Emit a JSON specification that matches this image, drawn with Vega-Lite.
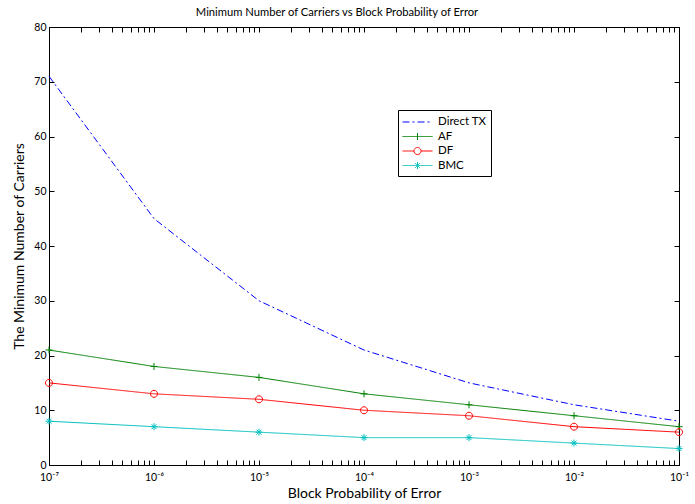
{
  "$schema": "https://vega.github.io/schema/vega-lite/v6.json",
  "width": 630,
  "height": 438,
  "autosize": "none",
  "padding": {"left": 49, "top": 27, "right": 16, "bottom": 39},
  "background": "white",
  "config": {
    "font": "Lato",
    "view": {"stroke": "black", "strokeWidth": 1},
    "axis": {
      "grid": false,
      "domainColor": "black",
      "tickColor": "black",
      "labelColor": "black",
      "titleColor": "black",
      "titleFontWeight": "normal",
      "labelFontSize": 10.5,
      "titleFontSize": 14,
      "tickSize": -5,
      "labelPadding": 8
    }
  },
  "title": {"text": "Minimum Number of Carriers vs Block Probability of Error", "fontSize": 11.2, "fontWeight": "normal", "offset": 4, "dx": -27, "color": "black"},
  "data": {
    "values": [
      {"p": 1e-7, "series": "Direct TX", "carriers": 71},
      {"p": 1e-6, "series": "Direct TX", "carriers": 45},
      {"p": 1e-5, "series": "Direct TX", "carriers": 30},
      {"p": 1e-4, "series": "Direct TX", "carriers": 21},
      {"p": 1e-3, "series": "Direct TX", "carriers": 15},
      {"p": 1e-2, "series": "Direct TX", "carriers": 11},
      {"p": 1e-1, "series": "Direct TX", "carriers": 8},
      {"p": 1e-7, "series": "AF", "carriers": 21},
      {"p": 1e-6, "series": "AF", "carriers": 18},
      {"p": 1e-5, "series": "AF", "carriers": 16},
      {"p": 1e-4, "series": "AF", "carriers": 13},
      {"p": 1e-3, "series": "AF", "carriers": 11},
      {"p": 1e-2, "series": "AF", "carriers": 9},
      {"p": 1e-1, "series": "AF", "carriers": 7},
      {"p": 1e-7, "series": "DF", "carriers": 15},
      {"p": 1e-6, "series": "DF", "carriers": 13},
      {"p": 1e-5, "series": "DF", "carriers": 12},
      {"p": 1e-4, "series": "DF", "carriers": 10},
      {"p": 1e-3, "series": "DF", "carriers": 9},
      {"p": 1e-2, "series": "DF", "carriers": 7},
      {"p": 1e-1, "series": "DF", "carriers": 6},
      {"p": 1e-7, "series": "BMC", "carriers": 8},
      {"p": 1e-6, "series": "BMC", "carriers": 7},
      {"p": 1e-5, "series": "BMC", "carriers": 6},
      {"p": 1e-4, "series": "BMC", "carriers": 5},
      {"p": 1e-3, "series": "BMC", "carriers": 5},
      {"p": 1e-2, "series": "BMC", "carriers": 4},
      {"p": 1e-1, "series": "BMC", "carriers": 3}
    ]
  },
  "resolve": {"axis": {"x": "independent", "y": "independent"}},
  "layer": [
    {
      "mark": {"type": "line", "strokeWidth": 1},
      "encoding": {
        "x": {
          "field": "p", "type": "quantitative",
          "scale": {"type": "log", "domain": [1e-7, 1e-1], "nice": false},
          "axis": {
            "orient": "bottom",
            "title": "Block Probability of Error",
            "values": [1e-7, 2e-7, 3e-7, 4e-7, 5e-7, 6e-7, 7e-7, 8e-7, 9e-7, 1e-6, 2e-6, 3e-6, 4e-6, 5e-6, 6e-6, 7e-6, 8e-6, 9e-6, 1e-5, 2e-5, 3e-5, 4e-5, 5e-5, 6e-5, 7e-5, 8e-5, 9e-5, 1e-4, 2e-4, 3e-4, 4e-4, 5e-4, 6e-4, 7e-4, 8e-4, 9e-4, 1e-3, 2e-3, 3e-3, 4e-3, 5e-3, 6e-3, 7e-3, 8e-3, 9e-3, 1e-2, 2e-2, 3e-2, 4e-2, 5e-2, 6e-2, 7e-2, 8e-2, 9e-2, 1e-1],
            "labelExpr": "abs(log(datum.value)/LN10 - round(log(datum.value)/LN10)) < 1e-6 ? '10⁻' + ['⁰','¹','²','³','⁴','⁵','⁶','⁷','⁸','⁹'][-round(log(datum.value)/LN10)] : ''",
            "labelFlush": false,
            "labelOverlap": false,
            "labelPadding": 12,
            "titlePadding": 4
          }
        },
        "y": {
          "field": "carriers", "type": "quantitative",
          "scale": {"domain": [0, 80], "nice": false},
          "axis": {"orient": "left", "title": "The Minimum Number of Carriers", "values": [0, 10, 20, 30, 40, 50, 60, 70, 80], "labelPadding": 8, "titlePadding": 7}
        },
        "color": {
          "field": "series", "type": "nominal",
          "scale": {"domain": ["Direct TX", "AF", "DF", "BMC"], "range": ["#0000ff", "#008000", "#ff0000", "#00bfbf"]},
          "legend": {
            "title": null,
            "orient": "none",
            "legendX": 349,
            "legendY": 83,
            "strokeColor": "black",
            "fillColor": "white",
            "padding": 4,
            "rowPadding": 0.5,
            "symbolSize": 225,
            "symbolStrokeWidth": 1,
            "labelOffset": 20,
            "labelFontSize": 11.5,
            "labelColor": "black",
            "encode": {
              "symbols": {
                "update": {
                  "shape": {"signal": "datum.value === 'AF' ? 'M-1,0H3M1,-0.47V0.47' : datum.value === 'DF' ? 'M-1,0H0.53A0.47,0.47 0 1,1 1.47,0A0.47,0.47 0 1,1 0.53,0M1.47,0H3' : datum.value === 'BMC' ? 'M-1,0H3M1,-0.47V0.47M0.67,-0.33L1.33,0.33M0.67,0.33L1.33,-0.33' : 'M-1,0H3'"},
                  "fill": {"value": "transparent"}
                }
              }
            }
          }
        },
        "strokeDash": {
          "field": "series", "type": "nominal",
          "scale": {"domain": ["Direct TX", "AF", "DF", "BMC"], "range": [[7, 3, 2, 3], [1, 0], [1, 0], [1, 0]]},
          "legend": null
        }
      }
    },
    {
      "transform": [{"filter": "datum.series !== 'Direct TX'"}],
      "mark": {"type": "point", "filled": false, "strokeWidth": 1, "size": 49, "opacity": 1},
      "encoding": {
        "x": {"field": "p", "type": "quantitative", "axis": null},
        "y": {"field": "carriers", "type": "quantitative", "axis": null},
        "color": {"field": "series", "type": "nominal", "legend": null},
        "shape": {
          "field": "series", "type": "nominal",
          "scale": {"domain": ["AF", "DF", "BMC"], "range": ["M-1,0H1M0,-1V1", "M1,0A1,1 0 1,1 -1,0A1,1 0 1,1 1,0Z", "M-1,0H1M0,-1V1M-0.7,-0.7L0.7,0.7M-0.7,0.7L0.7,-0.7"]},
          "legend": null
        }
      }
    },
    {
      "mark": {"type": "point", "opacity": 0},
      "encoding": {
        "x": {
          "field": "p", "type": "quantitative",
          "axis": {
            "orient": "top", "title": null, "labels": false, "domain": false,
            "values": [1e-7, 2e-7, 3e-7, 4e-7, 5e-7, 6e-7, 7e-7, 8e-7, 9e-7, 1e-6, 2e-6, 3e-6, 4e-6, 5e-6, 6e-6, 7e-6, 8e-6, 9e-6, 1e-5, 2e-5, 3e-5, 4e-5, 5e-5, 6e-5, 7e-5, 8e-5, 9e-5, 1e-4, 2e-4, 3e-4, 4e-4, 5e-4, 6e-4, 7e-4, 8e-4, 9e-4, 1e-3, 2e-3, 3e-3, 4e-3, 5e-3, 6e-3, 7e-3, 8e-3, 9e-3, 1e-2, 2e-2, 3e-2, 4e-2, 5e-2, 6e-2, 7e-2, 8e-2, 9e-2, 1e-1]
          }
        },
        "y": {
          "field": "carriers", "type": "quantitative",
          "axis": {"orient": "right", "title": null, "labels": false, "domain": false, "values": [0, 10, 20, 30, 40, 50, 60, 70, 80]}
        }
      }
    }
  ]
}
